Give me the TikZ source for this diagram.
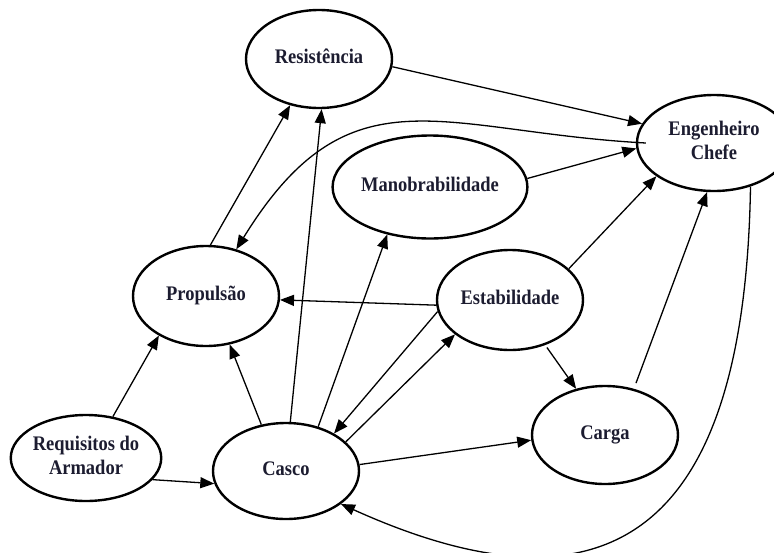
\documentclass[tikz,border=0pt]{standalone}
\usepackage{fontspec}
\setmainfont{Liberation Serif}
\usetikzlibrary{shapes.geometric,arrows.meta,calc}
\definecolor{txt}{RGB}{28,28,48}
\newcommand{\vstretchtxt}[1]{\scalebox{1}[1.12]{\begin{tabular}{@{}c@{}}#1\end{tabular}}}
\begin{document}
\begin{tikzpicture}[x=1pt,y=-1pt,
  bubble/.style={ellipse, draw=black, line width=2.4pt, inner sep=0pt,
    font=\fontsize{18.5}{21.5}\selectfont\bfseries, text=txt, align=center},
  link/.style={line width=1.3pt, -{Triangle[length=14pt,width=11pt]}}]
\useasboundingbox (0,0) rectangle (774,552);
\node[bubble, minimum width=146pt, minimum height=98pt] (res) at (319,59) {\vstretchtxt{Resistência}};
\node[bubble, minimum width=154pt, minimum height=96pt] (eng) at (714,143) {\vstretchtxt{Engenheiro\\Chefe}};
\node[bubble, minimum width=167pt, minimum height=103pt] (manob) at (430,187) {\vstretchtxt{Manobrabilidade}};
\node[bubble, minimum width=146pt, minimum height=100pt] (prop) at (206,296) {\vstretchtxt{Propulsão}};
\node[bubble, minimum width=146pt, minimum height=100pt] (estab) at (510,300) {\vstretchtxt{Estabilidade}};
\node[bubble, minimum width=144pt, minimum height=86pt] (req) at (86,458) {\vstretchtxt{Requisitos do\\Armador}};
\node[bubble, minimum width=146pt, minimum height=96pt] (casco) at (286,471) {\vstretchtxt{Casco}};
\node[bubble, minimum width=146pt, minimum height=98pt] (carga) at (605,435) {\vstretchtxt{Carga}};

\draw[link] (res.-6) -- (eng.165);
\draw[link] (manob.5) -- (eng.184);
\draw[link] (estab.28) -- (eng.-150);
\draw[link, shorten <=6pt] (carga.58) -- (eng.-98);
\draw[link] (prop.85) -- (res.-122);
\draw[link] (casco.85) -- (res.-87);
\draw[link] (casco.54) -- (manob.-132);
\draw[link] (casco.118) -- (prop.-64);
\draw[link] (req.57) -- (prop.-140);
\draw[link] (req.-18) -- (casco.190);
\draw[link] (estab.184) -- (prop.-3);
\draw[link] (estab.189) -- (casco.38);
\draw[link] (casco.26) -- (estab.-148);
\draw[link, shorten <=3pt] (estab.-52) -- (carga.122);
\draw[link] (casco.5) -- (carga.184);
\draw[link] ($(eng.180)+(10,0)$) .. controls (440,132) and (350,65) .. (prop.57);
\draw[link] (eng.-50) .. controls (745,520) and (620,630) .. (casco.-31);
\end{tikzpicture}
\end{document}
